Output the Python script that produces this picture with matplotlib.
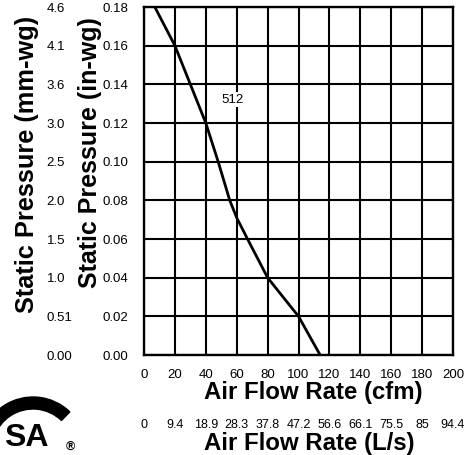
import matplotlib.pyplot as plt
from matplotlib.patches import Wedge

plt.rcParams['font.family'] = ['Liberation Sans', 'DejaVu Sans']

# fan curve
flow_cfm = [7, 20, 30, 40, 48, 55.5, 60, 67, 80, 100, 114]
press_inwg = [0.18, 0.16, 0.14, 0.12, 0.10, 0.08, 0.071, 0.06, 0.04, 0.02, 0.0]

cfm_ticks = [0, 20, 40, 60, 80, 100, 120, 140, 160, 180, 200]
ls_ticks = [0, 9.4, 18.9, 28.3, 37.8, 47.2, 56.6, 66.1, 75.5, 85, 94.4]
ls_labels = ['0', '9.4', '18.9', '28.3', '37.8', '47.2', '56.6', '66.1', '75.5', '85', '94.4']
inwg_ticks = [0.0, 0.02, 0.04, 0.06, 0.08, 0.10, 0.12, 0.14, 0.16, 0.18]
inwg_labels = ['0.00', '0.02', '0.04', '0.06', '0.08', '0.10', '0.12', '0.14', '0.16', '0.18']
mm_labels = ['0.00', '0.51', '1.0', '1.5', '2.0', '2.5', '3.0', '3.6', '4.1', '4.6']

fig = plt.figure(figsize=(4.74, 4.55), dpi=100)
ax = fig.add_axes([144/474, 1 - 355/455, 309/474, 348/455])

ax.plot(flow_cfm, press_inwg, color='black', lw=2, zorder=3)
ax.text(57, 0.132, '512', fontsize=9.5, ha='center', va='center', zorder=4,
        bbox=dict(facecolor='white', edgecolor='none', pad=1))

ax.set_xlim(0, 200)
ax.set_ylim(0, 0.18)
ax.set_xticks(cfm_ticks)
ax.set_xticklabels([str(t) for t in cfm_ticks])
ax.set_yticks(inwg_ticks)
ax.set_yticklabels(inwg_labels)
ax.grid(True, color='black', lw=1.5)
ax.set_axisbelow(True)
for sp in ax.spines.values():
    sp.set_linewidth(1.7)
ax.tick_params(axis='both', length=0, labelsize=9.5)
ax.tick_params(axis='x', pad=10)
ax.tick_params(axis='y', pad=11)

ax.set_xlabel('Air Flow Rate (cfm)', fontsize=17.3, fontweight='bold', va='center')
ax.xaxis.set_label_coords(0.547, -0.109)
ax.set_ylabel('Static Pressure (in-wg)', fontsize=18, fontweight='bold', va='center')
ax.yaxis.set_label_coords(-0.175, 0.583)

# second x scale in L/s
secx = ax.secondary_xaxis('bottom', functions=(lambda v: v * 0.472, lambda v: v / 0.472))
secx.set_xticks(ls_ticks)
secx.set_xticklabels(ls_labels)
secx.tick_params(length=0, labelsize=9, pad=46)
secx.spines['bottom'].set_visible(False)
secx.set_xlabel('Air Flow Rate (L/s)', fontsize=17.3, fontweight='bold', va='center')
secx.xaxis.set_label_coords(0.535, -0.253, transform=ax.transAxes)

# second y scale in mm-wg
secy = ax.secondary_yaxis('left', functions=(lambda v: v * 25.4, lambda v: v / 25.4))
secy.set_yticks([t * 25.4 for t in inwg_ticks])
secy.set_yticklabels(mm_labels)
secy.tick_params(length=0, labelsize=9.5, pad=70)
secy.spines['left'].set_visible(False)
for lab in secy.get_yticklabels():
    lab.set_horizontalalignment('left')
secy.set_ylabel('Static Pressure (mm-wg)', fontsize=18.3, fontweight='bold', va='center')
secy.yaxis.set_label_coords(-0.379, 0.549, transform=ax.transAxes)

# CSA mark, bottom left
fig.patches.append(Wedge((0.33, 0.05), 0.53, 46, 200, width=0.12, color='black',
                         transform=fig.dpi_scale_trans, figure=fig))
fig.text(4 / 474, 1 - 446 / 455, 'SA', fontsize=23, fontweight='bold', ha='left', va='baseline')
fig.text(70 / 474, 1 - 447 / 455, '\u00ae', fontsize=9, fontweight='bold', ha='center', va='center')

fig.savefig('out.png', dpi=100)
